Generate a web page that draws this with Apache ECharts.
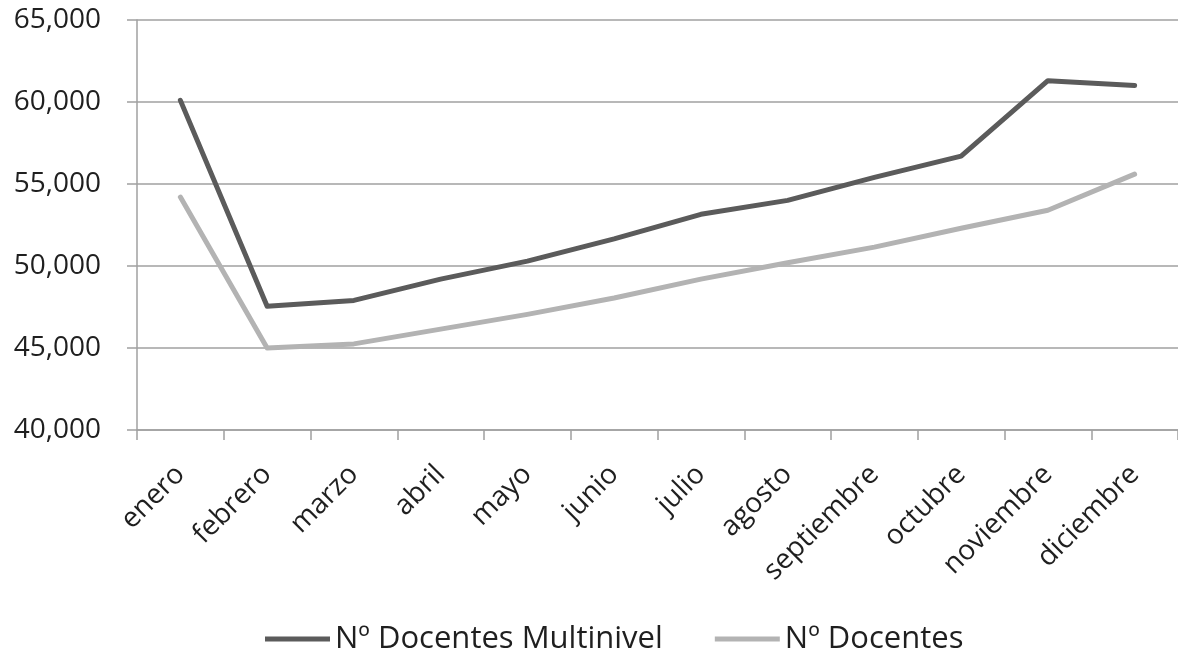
<!DOCTYPE html>
<html>
<head>
<meta charset="utf-8">
<script src="https://cdn.jsdelivr.net/npm/echarts@6/dist/echarts.min.js"></script>
<style>
html,body{margin:0;padding:0;background:#fff;}
#chart{width:1178px;height:652px;}
</style>
</head>
<body>
<div id="chart"></div>
<script>
var categories = ['enero','febrero','marzo','abril','mayo','junio','julio','agosto','septiembre','octubre','noviembre','diciembre'];
var multinivel = [60100, 47550, 47900, 49200, 50300, 51650, 53150, 54000, 55400, 56700, 61300, 61000];
var docentes = [54200, 45000, 45250, 46150, 47050, 48050, 49200, 50200, 51150, 52300, 53400, 55600];
var seriesNames = ['Nº Docentes Multinivel', 'Nº Docentes'];

var FONT = 'Open Sans';
var chart = echarts.init(document.getElementById('chart'));
chart.setOption({
  animation: false,
  backgroundColor: '#ffffff',
  grid: { left: 137, top: 20, width: 1044, height: 410, containLabel: false },
  xAxis: {
    type: 'category',
    data: categories,
    boundaryGap: true,
    axisLine: { show: true, lineStyle: { color: '#a0a0a0', width: 1.5 } },
    axisTick: { show: true, length: 10, lineStyle: { color: '#a0a0a0', width: 1.5 } },
    axisLabel: { rotate: 45, margin: 40, fontFamily: FONT, fontSize: 28, color: '#1f1f1f', interval: 0 }
  },
  yAxis: {
    type: 'value',
    min: 40000, max: 65000, interval: 5000,
    axisLine: { show: true, lineStyle: { color: '#a0a0a0', width: 1.5 } },
    axisTick: { show: true, length: 10, lineStyle: { color: '#a0a0a0', width: 1.5 } },
    splitLine: { show: true, lineStyle: { color: '#a0a0a0', width: 1.5 } },
    axisLabel: {
      margin: 36, fontFamily: FONT, fontSize: 28, color: '#1f1f1f',
      formatter: function (v) { return v.toLocaleString('en-US'); }
    }
  },
  legend: {
    top: 616, left: 260,
    icon: 'rect', itemWidth: 65, itemHeight: 5, itemGap: 52,
    textStyle: { fontFamily: FONT, fontSize: 31, color: '#1f1f1f', lineHeight: 36 },
    data: seriesNames
  },
  series: [
    { name: seriesNames[0], type: 'line', data: multinivel, symbol: 'none', color: '#5b5b5b',
      lineStyle: { width: 5, color: '#5b5b5b', cap: 'round', join: 'round' } },
    { name: seriesNames[1], type: 'line', data: docentes, symbol: 'none', color: '#b3b3b3',
      lineStyle: { width: 5, color: '#b3b3b3', cap: 'round', join: 'round' } }
  ]
});
</script>
</body>
</html>
